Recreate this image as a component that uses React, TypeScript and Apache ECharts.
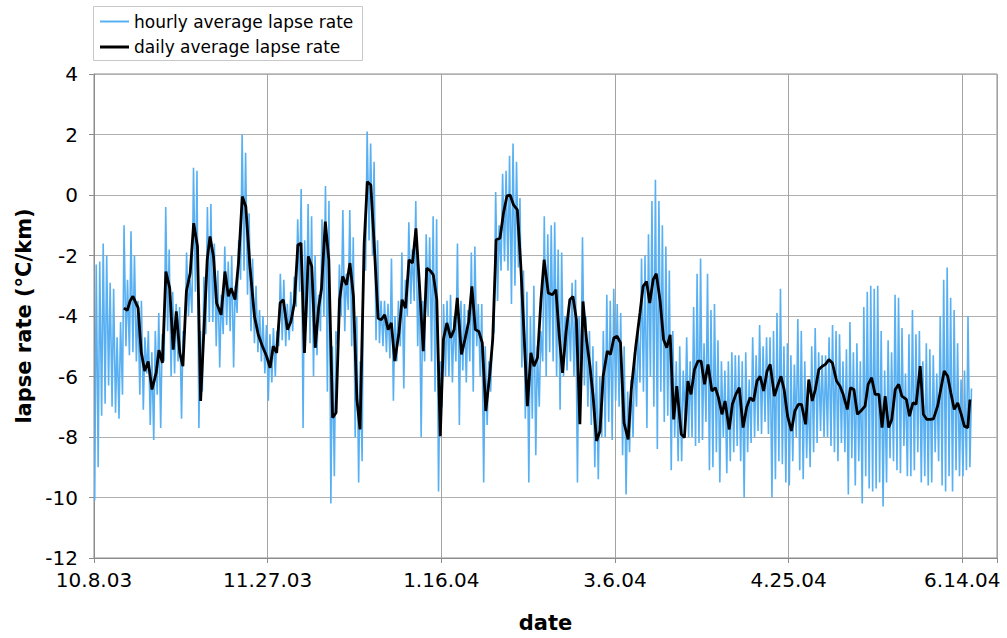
import React, { useEffect, useRef } from "react";
import * as echarts from "echarts";

// x axis: days since 10.8.03, tick every 50 days
const tickLabels = ["10.8.03", "11.27.03", "1.16.04", "3.6.04", "4.25.04", "6.14.04"];

// hourly series envelope, read per day (day 0 .. 252): daily high and low of the hourly trace
const hourlyHigh = [
  -2.3, -2.2, -1.6, -2.0, -2.9, -3.1, -4.7, -4.2, -1.0, -2.8,
  -1.2, -2.0, -3.5, -3.5, -4.7, -4.5, -5.2, -4.5, -3.9, -4.6,
  -0.4, -1.8, -3.2, -3.6, -3.7, -4.5, -1.9, -2.8, 0.9, 0.8,
  -4.5, -2.7, -0.4, -0.3, -1.6, -2.5, -3.3, -1.7, -2.2, -2.0,
  -3.0, -1.5, 2.0, 1.4, -0.6, -2.1, -3.0, -3.8, -4.0, -4.3,
  -4.6, -4.4, -4.5, -2.6, -2.8, -3.6, -3.2, -2.7, -0.8, 0.2,
  -1.5, -0.3, -0.7, -2.0, -3.3, -0.8, 0.3, -0.2, -5.0, -4.5,
  -2.3, -0.5, -2.6, -0.5, -1.4, -4.0, -5.5, -1.6, 2.1, 1.7,
  1.1, -1.5, -3.5, -3.5, -3.6, -2.1, -4.0, -3.5, -1.9, -2.8,
  -0.9, -1.8, -0.2, -2.5, -3.5, -1.3, -1.4, -0.7, -0.8, -5.5,
  -3.6, -3.5, -3.3, -4.0, -1.6, -3.5, -3.6, -3.8, -1.9, -1.7,
  -3.6, -3.6, -5.0, -5.5, -4.8, 0.1, -1.0, 0.7, 0.8, 1.3,
  1.7, 1.1, -0.1, -2.5, -3.2, -4.0, -3.0, -5.0, -4.5, -0.7,
  -1.3, -1.0, -0.9, -1.8, -1.9, -4.0, -3.7, -2.9, -2.8, -4.0,
  -1.4, -4.0, -4.5, -5.0, -5.5, -6.0, -4.5, -3.3, -3.5, -3.1,
  -3.6, -3.9, -5.0, -6.5, -6.1, -5.2, -4.5, -2.1, -2.0, -1.3,
  -0.2, 0.5, -0.2, -1.0, -1.7, -2.5, -4.5, -5.5, -5.0, -5.8,
  -4.7, -5.5, -3.7, -2.6, -2.1, -4.9, -2.6, -3.8, -3.6, -4.8,
  -5.5, -5.8, -5.5, -5.2, -5.3, -5.3, -5.5, -5.2, -6.1, -4.7,
  -5.3, -4.3, -5.0, -4.7, -4.7, -4.5, -3.9, -3.1, -5.0, -4.9,
  -5.3, -5.6, -4.1, -4.5, -5.5, -6.3, -5.0, -4.4, -5.2, -5.3,
  -5.3, -4.7, -4.3, -4.5, -4.6, -5.5, -5.1, -4.2, -5.2, -4.9,
  -5.5, -3.7, -3.2, -3.0, -3.1, -3.0, -4.5, -5.8, -4.8, -5.2,
  -3.3, -3.4, -4.4, -5.9, -4.6, -3.8, -4.6, -4.5, -5.5, -4.9,
  -5.1, -5.3, -5.9, -4.0, -2.8, -2.4, -3.4, -3.8, -4.9, -6.1,
  -5.8, -4.0, -6.4,
];

const hourlyLow = [
  -10.1, -9.0, -7.3, -6.9, -6.3, -7.0, -7.2, -7.4, -6.6, -5.0,
  -5.3, -5.2, -5.5, -6.6, -7.1, -5.9, -7.6, -8.1, -6.6, -7.7,
  -5.5, -4.5, -6.0, -5.9, -5.5, -7.4, -4.6, -4.0, -3.9, -3.2,
  -7.7, -6.5, -4.6, -4.2, -4.2, -5.0, -5.7, -4.6, -4.3, -4.5,
  -5.7, -3.9, -2.8, -2.5, -3.3, -4.5, -4.9, -5.2, -5.5, -5.9,
  -6.8, -6.2, -6.0, -5.0, -4.8, -5.0, -4.8, -4.5, -3.7, -3.2,
  -7.7, -4.0, -4.9, -6.0, -5.3, -4.5, -4.0, -6.5, -10.2, -9.3,
  -5.0, -4.0, -4.5, -3.8, -5.0, -8.0, -9.5, -8.8, -2.5, -1.5,
  -2.0, -4.8, -4.9, -5.0, -5.2, -5.4, -6.8, -5.5, -5.0, -6.4,
  -4.0, -3.6, -3.5, -5.0, -8.0, -5.5, -4.0, -5.5, -6.5, -9.8,
  -7.0, -6.0, -6.0, -6.2, -5.5, -7.6, -5.8, -6.2, -5.5, -6.5,
  -5.0, -6.0, -9.5, -7.6, -6.5, -4.5, -3.5, -2.5, -2.2, -2.5,
  -3.6, -3.0, -2.4, -5.7, -7.4, -9.5, -7.4, -8.6, -7.0, -5.5,
  -6.0, -5.2, -5.5, -6.0, -7.1, -6.0, -5.8, -5.5, -6.0, -9.5,
  -6.0, -6.3, -7.0, -7.6, -9.0, -9.4, -8.0, -8.0, -7.5, -8.1,
  -6.8, -7.0, -8.6, -9.9, -8.5, -8.0, -7.0, -6.2, -6.5, -7.7,
  -6.0, -7.0, -8.4, -6.5, -7.5, -7.3, -9.1, -8.0, -8.8, -8.8,
  -7.5, -8.0, -8.0, -8.3, -8.2, -8.1, -7.5, -9.1, -9.0, -8.5,
  -9.5, -8.0, -9.2, -8.8, -8.5, -8.3, -8.8, -10.0, -8.5, -8.2,
  -8.0, -7.8, -7.9, -7.5, -7.9, -10.0, -9.4, -8.8, -8.9, -9.5,
  -9.6, -8.8, -8.0, -9.1, -9.4, -8.7, -9.0, -8.5, -8.2, -7.8,
  -8.0, -8.0, -8.3, -8.5, -8.8, -8.2, -8.5, -9.9, -8.7, -9.6,
  -8.8, -10.2, -9.3, -9.7, -9.8, -9.7, -9.5, -10.3, -9.5, -8.7,
  -8.8, -9.1, -9.2, -8.3, -9.3, -9.3, -9.1, -8.5, -9.5, -9.3,
  -9.6, -9.5, -8.5, -8.8, -9.6, -9.8, -9.3, -9.8, -9.1, -9.3,
  -9.3, -9.1, -9.0,
];

// daily average: [day since 10.8.03, lapse rate]
const dailyAverage: [number, number][] = [
  [8.6, -3.74], [9.6, -3.81], [10.4, -3.5], [11.2, -3.35], [12.7, -3.73], [13.6, -5.2], [14.6, -5.82], [15.6, -5.5],
  [16.7, -6.43], [17.9, -5.88], [18.7, -5.13], [19.7, -5.55], [20.7, -2.53], [21.8, -3.08], [22.8, -5.11], [23.7, -3.85],
  [24.7, -5.22], [25.6, -5.66], [26.6, -3.19], [27.7, -2.58], [28.7, -0.93], [29.8, -1.7], [30.7, -6.81], [32.6, -2.14],
  [33.4, -1.37], [34.4, -2.03], [35.3, -3.57], [36.6, -3.96], [37.7, -2.53], [38.7, -3.35], [39.5, -3.08], [40.6, -3.46],
  [41.6, -2.25], [42.7, -0.05], [43.7, -0.38], [44.9, -2.36], [46.2, -4.01], [47.3, -4.62], [48.5, -5.0], [49.7, -5.33],
  [50.7, -5.71], [51.6, -5.0], [52.6, -5.22], [53.6, -3.57], [54.5, -3.46], [55.7, -4.45], [56.7, -4.18], [57.7, -3.57],
  [58.7, -1.65], [59.6, -1.59], [60.6, -5.22], [61.7, -2.03], [62.7, -2.36], [63.7, -5.05], [64.7, -3.7], [65.5, -3.1],
  [66.6, -0.88], [67.6, -2.14], [68.7, -7.36], [69.7, -7.2], [70.7, -3.46], [71.6, -2.69], [72.7, -2.97], [73.7, -2.25],
  [74.7, -3.35], [75.7, -6.76], [76.6, -7.75], [77.8, -1.59], [78.7, 0.44], [79.7, 0.33], [80.6, -1.48], [81.8, -4.07],
  [82.7, -4.12], [83.7, -3.96], [84.7, -4.45], [85.6, -4.23], [86.6, -5.49], [87.8, -4.56], [88.7, -3.46], [89.7, -3.74],
  [90.7, -2.14], [91.7, -2.25], [92.7, -1.1], [93.7, -2.97], [94.8, -5.16], [95.8, -2.42], [96.8, -2.5], [97.7, -2.64],
  [98.7, -3.46], [99.7, -7.97], [100.6, -4.78], [101.6, -4.23], [102.7, -4.72], [103.7, -4.45], [104.6, -3.4], [105.8, -5.27],
  [106.8, -4.78], [107.9, -4.18], [108.8, -3.02], [109.8, -4.45], [110.8, -4.51], [111.8, -4.89], [112.8, -7.14], [113.9, -5.99],
  [114.8, -4.78], [115.8, -1.48], [116.9, -1.43], [117.9, -0.6], [118.9, -0.03], [119.8, 0.0], [120.8, -0.33], [121.9, -0.49],
  [122.9, -2.36], [123.8, -4.56], [124.8, -6.98], [125.8, -5.22], [126.7, -5.66], [127.7, -5.38], [128.7, -3.46], [129.6, -2.14],
  [130.8, -3.24], [132.0, -3.3], [133.0, -3.13], [133.9, -4.56], [134.9, -5.88], [135.9, -4.56], [137.0, -3.46], [137.9, -3.35],
  [138.9, -4.12], [139.9, -7.58], [140.8, -3.52], [141.8, -4.78], [142.8, -5.66], [143.7, -6.65], [144.7, -8.13], [145.7, -7.8],
  [146.6, -5.99], [147.8, -5.16], [148.7, -5.27], [149.7, -4.72], [150.6, -4.67], [151.6, -4.89], [152.6, -7.53], [153.8, -8.08],
  [154.7, -6.43], [156.0, -5.0], [157.2, -3.9], [158.1, -3.02], [159.1, -2.86], [160.0, -3.57], [161.0, -2.8], [161.9, -2.6],
  [163.0, -3.5], [164.0, -4.78], [164.9, -5.05], [165.9, -4.62], [166.9, -7.42], [167.8, -6.32], [169.1, -7.91], [170.0, -8.02],
  [171.0, -6.15], [171.9, -6.59], [172.9, -5.77], [173.9, -5.49], [174.8, -5.49], [175.8, -6.26], [176.8, -5.6], [177.9, -6.48],
  [178.9, -6.37], [179.8, -6.7], [180.8, -7.25], [181.7, -6.81], [182.9, -7.75], [183.8, -6.92], [184.8, -6.59], [185.8, -6.37],
  [186.9, -7.69], [187.9, -7.03], [188.9, -6.7], [189.9, -6.81], [190.9, -6.15], [191.8, -5.99], [192.8, -6.48], [193.8, -5.82],
  [194.7, -5.6], [195.9, -6.65], [196.8, -6.32], [197.8, -5.99], [198.7, -6.43], [199.7, -7.31], [200.8, -7.8], [201.8, -7.14],
  [202.8, -6.92], [203.7, -6.92], [204.9, -7.58], [205.8, -6.1], [206.8, -6.81], [207.7, -6.43], [208.7, -5.77], [209.7, -5.66],
  [210.6, -5.6], [211.6, -5.44], [212.6, -5.55], [213.8, -6.15], [214.8, -6.32], [215.7, -6.59], [216.9, -7.09], [217.8, -6.37],
  [218.8, -6.43], [219.8, -7.25], [220.8, -7.14], [222.0, -6.98], [222.9, -6.26], [223.9, -6.04], [224.9, -6.59], [226.0, -6.59],
  [226.9, -7.69], [227.8, -6.65], [228.8, -7.69], [229.7, -7.42], [230.7, -6.43], [231.7, -6.26], [232.6, -6.65], [233.9, -6.76],
  [234.8, -7.31], [235.8, -6.87], [236.7, -6.92], [237.9, -5.66], [238.8, -7.25], [239.8, -7.42], [240.8, -7.42], [241.7, -7.4],
  [242.9, -6.98], [243.8, -6.43], [244.8, -5.82], [245.8, -5.99], [246.7, -6.54], [247.7, -7.09], [248.7, -6.87], [249.7, -7.25],
  [250.6, -7.64], [251.6, -7.69], [252.2, -6.76],
];

const FONT = "'DejaVu Sans', Verdana, sans-serif";
const BLUE = "#58b0f2";

export default function App() {
  const ref = useRef<HTMLDivElement>(null);
  useEffect(() => {
    if (!ref.current) return;
    const chart = echarts.init(ref.current, null, { renderer: "svg" });
    const hourly: [number, number][] = [];
    hourlyHigh.forEach((h, i) => {
      hourly.push([i + 0.2, hourlyLow[i]]);
      hourly.push([i + 0.65, h]);
    });
    const legendBase = {
      orient: "vertical",
      left: 100,
      padding: 0,
      itemWidth: 29,
      itemGap: 5,
      icon: "rect",
      textStyle: { fontSize: 17, color: "#000", fontFamily: FONT, lineHeight: 20 },
      selectedMode: false,
      z: 5,
    };
    chart.setOption({
      animation: false,
      backgroundColor: "#ffffff",
      textStyle: { fontFamily: FONT },
      graphic: [
        {
          type: "rect",
          z: 1,
          shape: { x: 93.5, y: 6.5, width: 269, height: 54 },
          style: { fill: "#ffffff", stroke: "#c8c8c8", lineWidth: 1 },
        },
      ],
      legend: [
        { ...legendBase, top: 11.5, itemHeight: 2, data: ["hourly average lapse rate"] },
        { ...legendBase, top: 37, itemHeight: 3, data: ["daily average lapse rate"] },
      ],
      grid: {
        left: 94,
        right: 10,
        top: 74,
        bottom: 79,
        show: true,
        borderColor: "#8c8c8c",
        borderWidth: 1,
      },
      xAxis: {
        type: "value",
        min: 0,
        max: 260,
        interval: 50,
        name: "date",
        nameLocation: "middle",
        nameGap: 54,
        nameTextStyle: { fontSize: 21, fontWeight: "bold", color: "#000", fontFamily: FONT },
        axisLine: { show: true, onZero: false, lineStyle: { color: "#8c8c8c", width: 1 } },
        axisTick: { show: true, length: 5, lineStyle: { color: "#8c8c8c" } },
        axisLabel: {
          fontSize: 20,
          color: "#000",
          margin: 12,
          fontFamily: FONT,
          formatter: (v: number) => (v % 50 === 0 ? tickLabels[v / 50] ?? "" : ""),
        },
        splitLine: { show: true, lineStyle: { color: "#a3a3a3", width: 1 } },
      },
      yAxis: {
        type: "value",
        min: -12,
        max: 4,
        interval: 2,
        name: "lapse rate (°C/km)",
        nameLocation: "middle",
        nameGap: 58,
        nameTextStyle: { fontSize: 21, fontWeight: "bold", color: "#000", fontFamily: FONT },
        axisLine: { show: true, onZero: false, lineStyle: { color: "#8c8c8c", width: 1 } },
        axisTick: { show: true, length: 5, lineStyle: { color: "#8c8c8c" } },
        axisLabel: { fontSize: 20, color: "#000", margin: 16, fontFamily: FONT },
        splitLine: { show: true, lineStyle: { color: "#b0b0b0", width: 1 } },
      },
      series: [
        {
          name: "hourly average lapse rate",
          type: "line",
          data: hourly,
          symbol: "none",
          showSymbol: false,
          lineStyle: { color: BLUE, width: 1.6 },
          itemStyle: { color: BLUE },
          z: 2,
        },
        {
          name: "daily average lapse rate",
          type: "line",
          data: dailyAverage,
          symbol: "none",
          showSymbol: false,
          lineStyle: { color: "#000000", width: 2.8 },
          itemStyle: { color: "#000000" },
          z: 3,
        },
      ],
    });
    return () => chart.dispose();
  }, []);
  return (
    <div
      ref={ref}
      style={{ position: "absolute", left: 0, top: 0, width: 1007, height: 638, background: "#fff" }}
    />
  );
}
